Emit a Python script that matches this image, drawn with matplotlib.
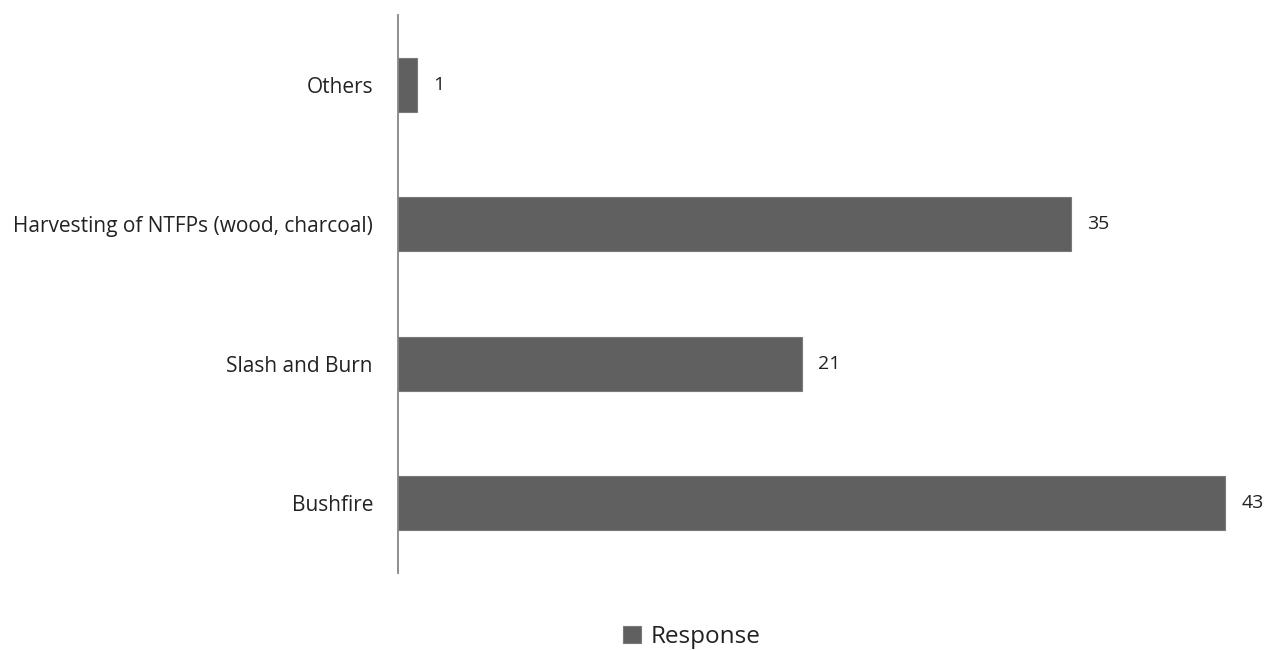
import matplotlib.pyplot as plt

# drivers of deforestation, number of responses
categories = ['Bushfire', 'Slash and Burn', 'Harvesting of NTFPs (wood, charcoal)', 'Others']
responses = [43, 21, 35, 1]

bar_color = '#606060'
axis_color = '#868686'
text_color = '#222222'

plt.rcParams['font.family'] = ['Open Sans', 'DejaVu Sans']

fig = plt.figure(figsize=(12.69, 6.5), dpi=100)
ax = fig.add_axes([398 / 1269, 1 - 573 / 650, 1 - 398 / 1269 - 0.004, 558 / 650])

pos = list(range(len(categories)))
bars = ax.barh(pos, responses, height=0.39, color=bar_color,
               edgecolor='#7a7a7a', linewidth=0.8, label='Response')

for p, v in zip(pos, responses):
    ax.annotate(str(v), (v, p), xytext=(11.5, 0), textcoords='offset points',
                ha='left', va='center', fontsize=14, color=text_color)

ax.set_xlim(0, 45)
ax.set_ylim(-0.5, 3.5)
ax.set_yticks(pos)
ax.set_yticklabels(categories, fontsize=15, color=text_color)
ax.set_xticks([])
ax.tick_params(axis='y', length=0, pad=18)

for side in ['top', 'right', 'bottom']:
    ax.spines[side].set_visible(False)
ax.spines['left'].set_color(axis_color)
ax.spines['left'].set_linewidth(1.3)

fig.legend(handles=[bars], labels=['Response'], loc='center',
           bbox_to_anchor=(692 / 1269, 1 - 637 / 650), frameon=False,
           fontsize=17.5, handlelength=0.75, handleheight=0.75, handletextpad=0.4,
           labelcolor=text_color)

fig.savefig('out.png', dpi=100)
